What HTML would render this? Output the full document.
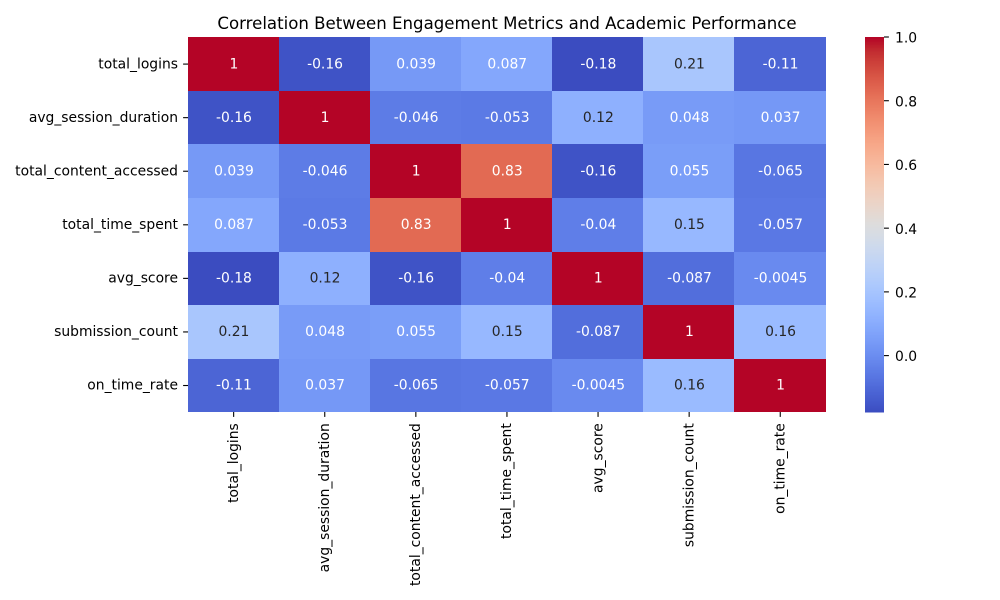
<!DOCTYPE html>
<html>
<head>
<meta charset="utf-8">
<title>Correlation Between Engagement Metrics and Academic Performance</title>
<style>
html,body{margin:0;padding:0;background:#fff;}
svg{display:block;}
text{font-family:"DejaVu Sans","Liberation Sans",sans-serif;}
</style>
</head>
<body>
<svg id="chart" width="1000" height="600" viewBox="0 0 1000 600" xmlns="http://www.w3.org/2000/svg">
  <rect width="1000" height="600" fill="#fff"></rect>
  <text x="507" y="29" text-anchor="middle" font-size="16.6" fill="#000">Correlation Between Engagement Metrics and Academic Performance</text>
  <g id="cells"></g>
  <g id="annots"></g>
  <g id="yaxis"></g>
  <g id="xaxis"></g>
  <g id="cbar"></g>
</svg>
<script>
const metrics = ["total_logins","avg_session_duration","total_content_accessed","total_time_spent","avg_score","submission_count","on_time_rate"];
const row_total_logins = [1,-0.16,0.039,0.087,-0.18,0.21,-0.11];
const row_avg_session_duration = [-0.16,1,-0.046,-0.053,0.12,0.048,0.037];
const row_total_content_accessed = [0.039,-0.046,1,0.83,-0.16,0.055,-0.065];
const row_total_time_spent = [0.087,-0.053,0.83,1,-0.04,0.15,-0.057];
const row_avg_score = [-0.18,0.12,-0.16,-0.04,1,-0.087,-0.0045];
const row_submission_count = [0.21,0.048,0.055,0.15,-0.087,1,0.16];
const row_on_time_rate = [-0.11,0.037,-0.065,-0.057,-0.0045,0.16,1];
const matrix = [row_total_logins,row_avg_session_duration,row_total_content_accessed,row_total_time_spent,row_avg_score,row_submission_count,row_on_time_rate];
const colorbarTicks = [0,0.2,0.4,0.6,0.8,1];
const colorMin = -0.177;
const colorMax = 1;

const NS = "http://www.w3.org/2000/svg";
const plot = {left:187.8, right:825.5, top:37.3, bottom:412.3};
const bar = {left:865, right:884, top:37, bottom:412};

const cmR = [0.2298057,0.26623388,0.30386891,0.342804478,0.38301334,0.424369608,0.46666708,0.509635204,0.552953156,0.596262162,0.639176211,0.681291281,0.722193294,0.761464949,0.798691636,0.833466556,0.865395197,0.897787179,0.924127593,0.944468518,0.958852946,0.96732803,0.969954137,0.966811177,0.958003065,0.943660866,0.923944917,0.89904617,0.869186849,0.834620542,0.795631745,0.752534934,0.705673158];
const cmG = [0.298717966,0.353094838,0.406535296,0.458757618,0.50941904,0.558148092,0.604562568,0.648280772,0.688929332,0.726149107,0.759599947,0.788964712,0.813952739,0.834302879,0.849786142,0.860207984,0.86541021,0.848937047,0.827384882,0.800927443,0.769767752,0.734132809,0.694266682,0.650421156,0.602842431,0.551750968,0.49730856,0.439559467,0.378313092,0.312874446,0.24128379,0.157246067,0.01555616];
const cmB = [0.753683153,0.801466763,0.84495867,0.883725899,0.917387822,0.945619588,0.968154911,0.98478814,0.995375608,0.999836203,0.998151185,0.990363227,0.976574709,0.956945269,0.931688648,0.901068838,0.865395561,0.820880546,0.774508472,0.726736146,0.678007945,0.628751763,0.579375448,0.530263762,0.481775914,0.434243684,0.387970225,0.343229596,0.300267182,0.259301199,0.220525627,0.184115123,0.150232812];

function lerpTable(t, table){
  const p = Math.min(Math.max(t,0),1) * (table.length-1);
  const i = Math.min(Math.floor(p), table.length-2);
  return table[i] + (table[i+1]-table[i])*(p-i);
}
function coolwarm(v){
  const t = (v-colorMin)/(colorMax-colorMin);
  return [lerpTable(t,cmR),lerpTable(t,cmG),lerpTable(t,cmB)];
}
function toCss(c){
  return "rgb("+c.map(x=>Math.round(x*255)).join(",")+")";
}
function luminance(c){
  const f = c.map(x=> x<=0.03928 ? x/12.92 : Math.pow((x+0.055)/1.055,2.4));
  return 0.2126*f[0]+0.7152*f[1]+0.0722*f[2];
}
function formatValue(v){
  return String(Number(v.toPrecision(2)));
}
const xScale = i => plot.left + (plot.right-plot.left)*i/metrics.length;
const yScale = i => plot.top + (plot.bottom-plot.top)*i/metrics.length;
const barY = v => bar.bottom - (bar.bottom-bar.top)*(v-colorMin)/(colorMax-colorMin);

function make(tag, attrs, parent, text){
  const el = document.createElementNS(NS, tag);
  for(const k in attrs){ el.setAttribute(k, attrs[k]); }
  if(text !== undefined){ el.textContent = text; }
  parent.appendChild(el);
  return el;
}

const cellsG = document.getElementById("cells");
const annotsG = document.getElementById("annots");
const yG = document.getElementById("yaxis");
const xG = document.getElementById("xaxis");
const cbarG = document.getElementById("cbar");

matrix.forEach((row,r)=>{
  row.forEach((v,c)=>{
    const col = coolwarm(v);
    const x0 = Math.round(xScale(c)), x1 = Math.round(xScale(c+1));
    const y0 = Math.round(yScale(r)), y1 = Math.round(yScale(r+1));
    const cell = make("rect",{x:x0,y:y0,width:x1-x0,height:y1-y0,fill:toCss(col),"shape-rendering":"crispEdges"},cellsG);
    
    
    const label = make("text",{x:(xScale(c)+xScale(c+1))/2+0.6,y:(yScale(r)+yScale(r+1))/2+4.2,"text-anchor":"middle","font-size":"13.89",fill:luminance(col)<0.408?"#ffffff":"#262626"},annotsG,formatValue(v));
    
    
  });
});

metrics.forEach((name,i)=>{
  const cy = (yScale(i)+yScale(i+1))/2;
  const yTick = make("line",{x1:188-4.9,x2:188,y1:cy,y2:cy,stroke:"#000","stroke-width":"1.1"},yG);
  
  
  const yLabel = make("text",{x:178,y:cy+4.2,"text-anchor":"end","font-size":"13.89",fill:"#000"},yG,name);
  
  

  const cx = (xScale(i)+xScale(i+1))/2;
  const xTick = make("line",{x1:cx+0.3,x2:cx+0.3,y1:412,y2:412+4.9,stroke:"#000","stroke-width":"1.1"},xG);
  
  
  const xLabel = make("text",{transform:"translate("+(cx+4.5)+",423.2) rotate(-90)","text-anchor":"end","font-size":"13.89",fill:"#000"},xG,name);
  
  
});

const levels = 256;
for(let i=0;i<levels;i++){
  const y0 = bar.bottom-(bar.bottom-bar.top)*(i+1)/levels;
  const y1 = bar.bottom-(bar.bottom-bar.top)*i/levels;
  const v = colorMin+(colorMax-colorMin)*(i+0.5)/levels;
  const seg = make("rect",{x:bar.left,y:y0,width:bar.right-bar.left,height:y1-y0+0.6,fill:toCss(coolwarm(v)),"shape-rendering":"crispEdges"},cbarG);
  
  
}
colorbarTicks.forEach(v=>{
  const y = barY(v);
  const t = make("line",{x1:bar.right,x2:bar.right+4.9,y1:y,y2:y,stroke:"#000","stroke-width":"1.1"},cbarG);
  
  
  const l = make("text",{x:bar.right+11,y:y+5.6,"font-size":"13.89",fill:"#000"},cbarG,v.toFixed(1));
  
  
});
</script>
</body>
</html>
